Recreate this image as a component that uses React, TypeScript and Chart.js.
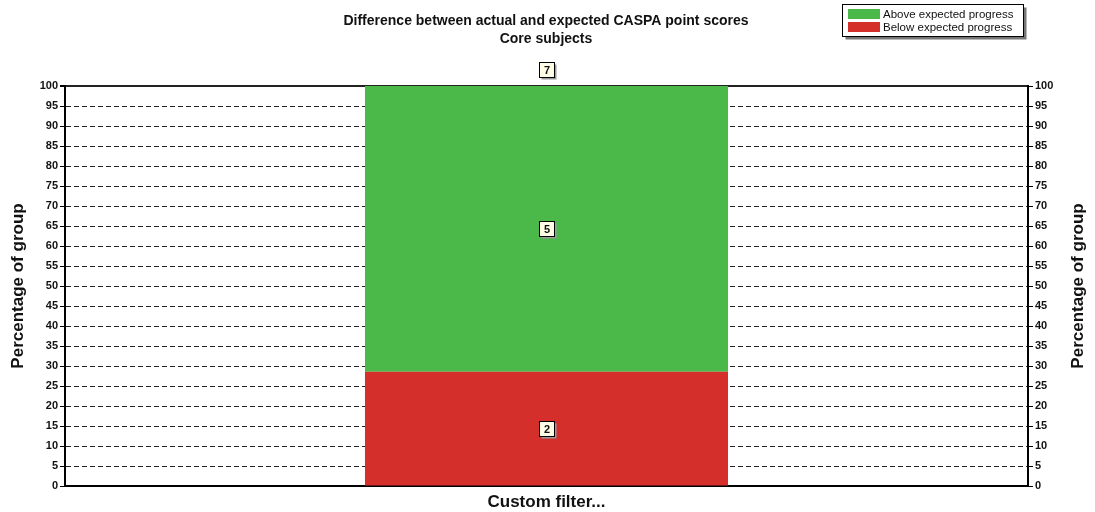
import React, { useEffect, useRef } from "react";
import { Chart, registerables } from "chart.js";

Chart.register(...registerables);

const titleLines = ["Difference between actual and expected CASPA point scores", "Core subjects"];
const categories = ["Custom filter..."];
const belowCounts = [2];
const aboveCounts = [5];
const seriesNames = ["Below expected progress", "Above expected progress"];
const seriesColors = ["#D52F2B", "#4AB94A"];
const yTicks = [0, 5, 10, 15, 20, 25, 30, 35, 40, 45, 50, 55, 60, 65, 70, 75, 80, 85, 90, 95, 100];
const axisTitle = "Percentage of group";

const FONT = "'Liberation Sans', Arial, sans-serif";

function drawLabelBox(ctx: CanvasRenderingContext2D, cx: number, cy: number, text: string) {
  ctx.save();
  ctx.font = `bold 11px ${FONT}`;
  const tw = ctx.measureText(text).width;
  const w = Math.max(15, Math.round(tw + 9));
  const h = 15;
  const x = Math.round(cx - w / 2) + 0.5;
  const y = Math.round(cy - h / 2) + 0.5;
  ctx.fillStyle = "#9a9a9a";
  ctx.fillRect(x + 2, y + 2, w, h);
  ctx.fillStyle = "#FFFDE6";
  ctx.fillRect(x, y, w, h);
  ctx.strokeStyle = "#000";
  ctx.lineWidth = 1;
  ctx.strokeRect(x, y, w, h);
  ctx.fillStyle = "#111";
  ctx.textAlign = "center";
  ctx.textBaseline = "middle";
  ctx.fillText(text, x + w / 2, y + h / 2 + 0.5);
  ctx.restore();
}

const decorPlugin = {
  id: "decor",
  afterDraw(chart: any) {
    const ctx: CanvasRenderingContext2D = chart.ctx;
    const area = chart.chartArea;
    ctx.save();
    // title
    ctx.fillStyle = "#111";
    ctx.font = `bold 14px ${FONT}`;
    ctx.textAlign = "center";
    ctx.textBaseline = "middle";
    ctx.fillText(titleLines[0], 546, 21);
    ctx.fillText(titleLines[1], 546, 39);

    // axis titles
    ctx.font = `bold 17px ${FONT}`;
    [18, 1078].forEach((x) => {
      ctx.save();
      ctx.translate(x, (area.top + area.bottom) / 2);
      ctx.rotate(-Math.PI / 2);
      ctx.textAlign = "center";
      ctx.textBaseline = "middle";
      ctx.fillStyle = "#111";
      ctx.fillText(axisTitle, 0, 0);
      ctx.restore();
    });

    // legend
    const lx = 842.5, ly = 4.5, lw = 181, lh = 32;
    ctx.fillStyle = "#777";
    ctx.fillRect(lx + 3, ly + 3, lw, lh);
    ctx.fillStyle = "#fff";
    ctx.fillRect(lx, ly, lw, lh);
    ctx.strokeStyle = "#000";
    ctx.lineWidth = 1;
    ctx.strokeRect(lx, ly, lw, lh);
    const legendOrder = [1, 0];
    ctx.font = `11.5px ${FONT}`;
    ctx.textAlign = "left";
    ctx.textBaseline = "middle";
    legendOrder.forEach((di, i) => {
      const y = 9 + i * 13;
      ctx.fillStyle = seriesColors[di];
      ctx.fillRect(848, y, 32, 10);
      ctx.fillStyle = "#111";
      ctx.fillText(seriesNames[di], 883, y + 5.5);
    });

    // value labels
    const metas = chart.data.datasets.map((_: any, i: number) => chart.getDatasetMeta(i));
    categories.forEach((_, ci) => {
      let topY = Infinity;
      let cx = 0;
      metas.forEach((meta: any, di: number) => {
        const el = meta.data[ci];
        const counts = di === 0 ? belowCounts : aboveCounts;
        const cy = (el.y + el.base) / 2;
        cx = el.x;
        topY = Math.min(topY, el.y);
        drawLabelBox(ctx, el.x, cy, String(counts[ci]));
      });
      drawLabelBox(ctx, cx, topY - 17, String(belowCounts[ci] + aboveCounts[ci]));
    });
    ctx.restore();
  },
};

export default function App() {
  const ref = useRef<HTMLCanvasElement | null>(null);
  useEffect(() => {
    if (!ref.current) return;
    const totals = categories.map((_, i) => belowCounts[i] + aboveCounts[i]);
    const chart = new Chart(ref.current, {
      type: "bar",
      data: {
        labels: categories,
        datasets: [
          {
            label: seriesNames[0],
            data: belowCounts.map((v, i) => (v / totals[i]) * 100),
            backgroundColor: seriesColors[0],
            borderWidth: 0,
            categoryPercentage: 0.377,
            barPercentage: 1,
            yAxisID: "y",
          },
          {
            label: seriesNames[1],
            data: aboveCounts.map((v, i) => (v / totals[i]) * 100),
            backgroundColor: seriesColors[1],
            borderWidth: 0,
            categoryPercentage: 0.377,
            barPercentage: 1,
            yAxisID: "y",
          },
        ],
      },
      options: {
        responsive: false,
        animation: false,
        devicePixelRatio: 1,
        layout: { padding: { top: 86, left: 0, right: 0, bottom: 0 } },
        plugins: {
          legend: { display: false },
          title: { display: false },
          tooltip: { enabled: false },
        },
        scales: {
          x: {
            stacked: true,
            grid: { display: false },
            border: { display: true, color: "#000", width: 2 },
            ticks: {
              color: "#111",
              font: { family: FONT, size: 17, weight: "bold" },
              padding: -2,
            },
            afterFit: (s: any) => {
              s.height = 26;
            },
          } as any,
          y: {
            stacked: true,
            position: "left",
            min: 0,
            max: 100,
            afterBuildTicks: (s: any) => {
              s.ticks = yTicks.map((v) => ({ value: v }));
            },
            grid: {
              color: (c: any) => (c.tick && c.tick.value === 0 ? "rgba(0,0,0,0)" : "#222"),
              lineWidth: (c: any) => (c.tick && c.tick.value === 100 ? 2 : 1),
              tickLength: 5,
              tickColor: "#000",
              tickBorderDash: [],
              drawTicks: true,
            },
            border: {
              display: true,
              color: "#000",
              width: 2,
              dash: (c: any) => (c.tick && c.tick.value === 100 ? [] : [5, 3]),
            },
            ticks: {
              color: "#111",
              font: { family: FONT, size: 11, weight: "bold" },
              padding: 2,
              autoSkip: false,
            },
            afterFit: (s: any) => {
              s.width = 65;
            },
          } as any,
          y2: {
            position: "right",
            min: 0,
            max: 100,
            afterBuildTicks: (s: any) => {
              s.ticks = yTicks.map((v) => ({ value: v }));
            },
            grid: {
              drawOnChartArea: false,
              tickLength: 5,
              tickColor: "#000",
              tickBorderDash: [],
            },
            border: { display: true, color: "#000", width: 2 },
            ticks: {
              color: "#111",
              font: { family: FONT, size: 11, weight: "bold" },
              padding: 2,
              autoSkip: false,
            },
            afterFit: (s: any) => {
              s.width = 67;
            },
          } as any,
        },
      },
      plugins: [decorPlugin],
    });
    return () => chart.destroy();
  }, []);
  return (
    <div style={{ position: "fixed", left: 0, top: 0, width: 1095, height: 512, background: "#fff" }}>
      <canvas ref={ref} width={1095} height={512} style={{ width: 1095, height: 512, display: "block" }} />
    </div>
  );
}
